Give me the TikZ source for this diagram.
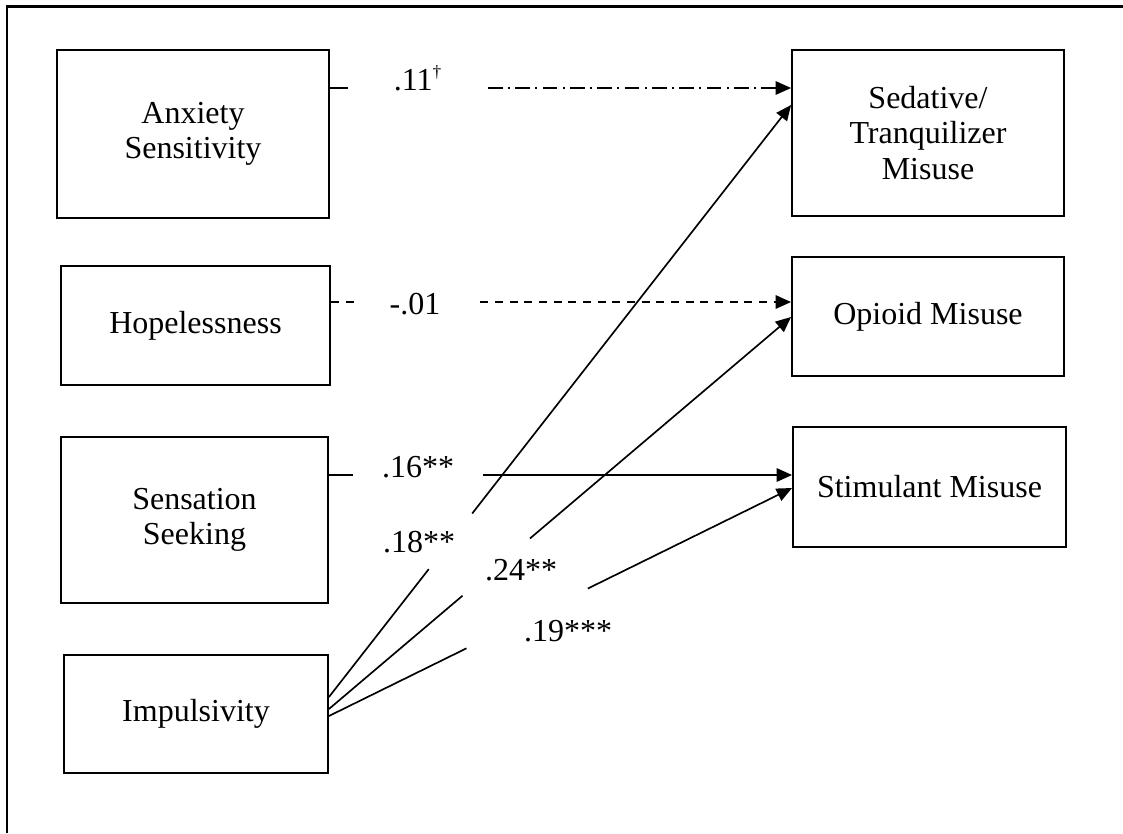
\documentclass[tikz,border=0pt]{standalone}
\usepackage{fontspec}
\setmainfont{Liberation Serif}
\usetikzlibrary{arrows.meta,calc}
\newcommand\pxu{0.75pt}
\begin{document}
\begin{tikzpicture}[x=0.75pt,y=-0.75pt,
  box/.style={draw,line width=1.4pt,align=center,inner sep=0pt,
    font=\fontsize{24}{26.5}\selectfont},
  lbl/.style={anchor=base,inner sep=0pt,font=\fontsize{24}{26.5}\selectfont},
  conn/.style={line width=1.25pt},
  tip/.style={-{Triangle[length=11.5pt,width=10pt]}},
  dashdotline/.style={dash pattern=on 11pt off 4pt on 1.5pt off 4pt},
  dashline/.style={dash pattern=on 6pt off 5pt},
  frame/.style={line width=1.8pt}]
\useasboundingbox (0,0) rectangle (1123,833);
\draw[frame] (7,833) -- (7,6.5) -- (1123,6.5);

\node[box,minimum width=272*\pxu,minimum height=168*\pxu] (anx) at (193,134) {Anxiety\\Sensitivity};
\node[box,minimum width=269*\pxu,minimum height=119*\pxu] (hope) at (195.5,325.5) {Hopelessness};
\node[box,minimum width=267*\pxu,minimum height=166*\pxu] (sens) at (194.5,520) {Sensation\\Seeking};
\node[box,minimum width=264*\pxu,minimum height=118*\pxu] (imp) at (196,714) {Impulsivity};
\node[box,minimum width=272*\pxu,minimum height=166*\pxu] (sed) at (928,133) {Sedative/\\Tranquilizer\\Misuse};
\node[box,minimum width=272*\pxu,minimum height=119*\pxu] (opi) at (928,316.5) {Opioid Misuse};
\node[box,minimum width=273*\pxu,minimum height=120*\pxu] (sti) at (929.5,487) {Stimulant Misuse};

% Anxiety -> Sedative
\coordinate (a1) at ($(anx.east)+(0,-46)$);
\coordinate (a2) at ($(sed.west)+(0,-45)$);
\path (a1) -- (a2) coordinate[pos=0.039] (a1g) coordinate[pos=0.343] (a2g);
\draw[conn] (a1) -- (a1g);
\draw[conn,tip,dashdotline] (a2g) -- (a2);
\node[lbl] (l11) at (418,90) {.11\textsuperscript{\fontsize{13}{13}\selectfont †}};

% Hopelessness -> Opioid
\coordinate (h1) at ($(hope.east)+(0,-23.5)$);
\coordinate (h2) at ($(opi.west)+(0,-14.5)$);
\path (h1) -- (h2) coordinate[pos=0.050] (h1g) coordinate[pos=0.325] (h2g);
\draw[conn,dashline] (h1) -- (h1g);
\draw[conn,tip,dashline] (h2g) -- (h2);
\node[lbl] (l01) at (415,314) {-.01};

% Sensation -> Stimulant
\coordinate (s1) at ($(sens.east)+(0,-45)$);
\coordinate (s2) at ($(sti.west)+(0,-12)$);
\path (s1) -- (s2) coordinate[pos=0.052] (s1g) coordinate[pos=0.333] (s2g);
\draw[conn] (s1) -- (s1g);
\draw[conn,tip] (s2g) -- (s2);
\node[lbl] (l16) at (418,477) {.16**};

% Impulsivity -> Sedative
\coordinate (i1) at ($(imp.east)+(0,-17)$);
\coordinate (i1e) at ($(sed.west)+(0,-28)$);
\path (i1) -- (i1e) coordinate[pos=0.216] (i1g) coordinate[pos=0.310] (i1h);
\draw[conn] (i1) -- (i1g);
\draw[conn,tip] (i1h) -- (i1e);
\node[lbl] (l18) at (419,552) {.18**};

% Impulsivity -> Opioid
\coordinate (i2) at ($(imp.east)+(0,-5)$);
\coordinate (i2e) at ($(opi.west)+(0,0.5)$);
\path (i2) -- (i2e) coordinate[pos=0.289] (i2g) coordinate[pos=0.435] (i2h);
\draw[conn] (i2) -- (i2g);
\draw[conn,tip] (i2h) -- (i2e);
\node[lbl] (l24) at (521,580) {.24**};

% Impulsivity -> Stimulant
\coordinate (i3) at ($(imp.east)+(0,2)$);
\coordinate (i3e) at ($(sti.west)+(0,1)$);
\path (i3) -- (i3e) coordinate[pos=0.297] (i3g) coordinate[pos=0.559] (i3h);
\draw[conn] (i3) -- (i3g);
\draw[conn,tip] (i3h) -- (i3e);
\node[lbl] (l19) at (568,641) {.19***};
\end{tikzpicture}
\end{document}
